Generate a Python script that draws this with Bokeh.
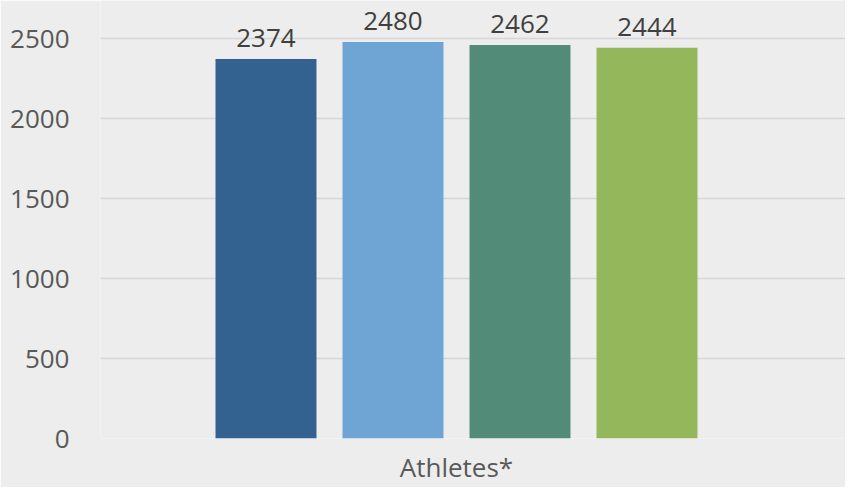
from bokeh.plotting import figure
from bokeh.models import ColumnDataSource, LabelSet, Range1d, FixedTicker
from bokeh.core.properties import value
from bokeh.embed import file_html
from bokeh.resources import INLINE

category = ["Athletes*"]
series = ["Series 1", "Series 2", "Series 3", "Series 4"]
values = [2374, 2480, 2462, 2444]
colors = ["#336291", "#6fa5d4", "#528c79", "#94b75c"]
y_ticks = [0, 500, 1000, 1500, 2000, 2500]

xpos = list(range(len(values)))
src = ColumnDataSource(dict(x=xpos, top=values, color=colors, label=[str(v) for v in values], name=series))

bg = "#ededed"
p = figure(width=845, height=487, output_backend="svg", toolbar_location=None,
           x_range=Range1d(-1.303, 4.563), y_range=Range1d(0, 2740),
           min_border_left=100, min_border_right=0, min_border_top=0, min_border_bottom=0,
           background_fill_color=bg, border_fill_color=bg, outline_line_color=None)

p.vbar(x="x", top="top", bottom=0, width=0.795, color="color", source=src, line_color=None)

labels = LabelSet(x="x", y="top", text="label", source=src, text_align="center",
                  text_baseline="alphabetic", y_offset=12, text_font=value("Open Sans"),
                  text_font_size=value("26px"), text_color="#404040")
p.add_layout(labels)

# y axis
p.yaxis.ticker = FixedTicker(ticks=y_ticks)
p.yaxis.axis_line_color = None
p.yaxis.major_tick_line_color = None
p.yaxis.major_tick_out = 0
p.yaxis.major_tick_in = 0
p.yaxis.minor_tick_line_color = None
p.yaxis.major_label_text_font = "Open Sans"
p.yaxis.major_label_text_font_size = "26px"
p.yaxis.major_label_text_color = "#595959"
p.yaxis.major_label_standoff = 31

# x axis
center = (len(values) - 1) / 2
p.xaxis.ticker = FixedTicker(ticks=[center])
p.xaxis.major_label_overrides = {center: category[0]}
p.xaxis.axis_line_color = None
p.xaxis.major_tick_line_color = None
p.xaxis.major_tick_out = 0
p.xaxis.major_tick_in = 0
p.xaxis.minor_tick_line_color = None
p.xaxis.major_label_text_font = "Open Sans"
p.xaxis.major_label_text_font_size = "26px"
p.xaxis.major_label_text_color = "#595959"
p.xaxis.major_label_standoff = 10

p.xgrid.grid_line_color = None
p.ygrid.ticker = FixedTicker(ticks=y_ticks)
p.ygrid.grid_line_color = "#d6d6d6"
p.ygrid.grid_line_width = 1.5

open("out.html", "w").write(file_html(p, INLINE))
